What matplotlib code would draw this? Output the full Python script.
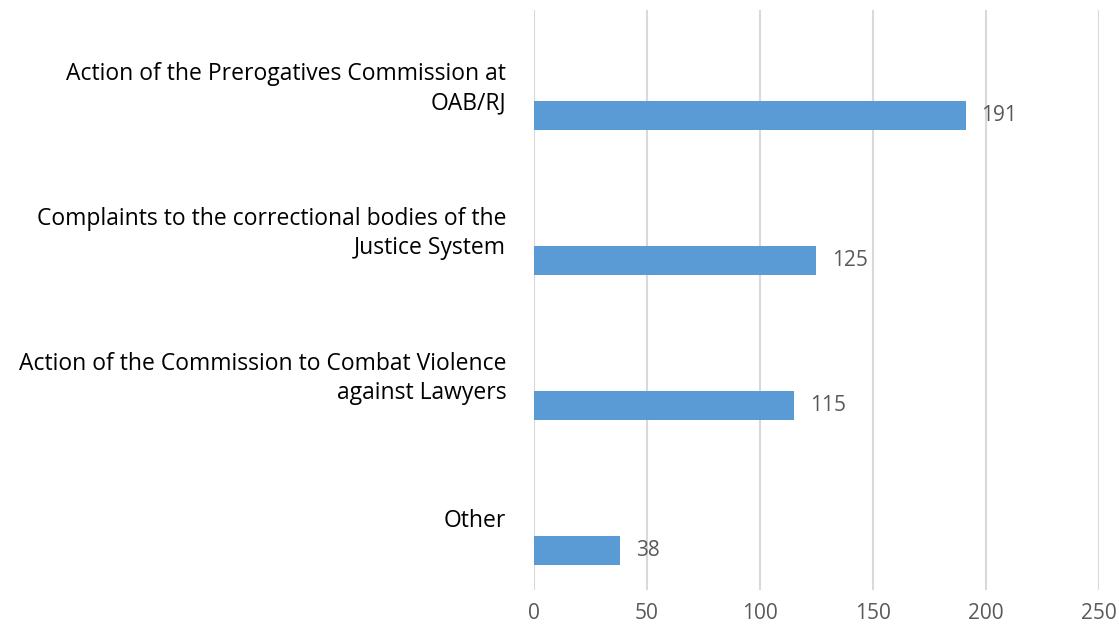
import matplotlib.pyplot as plt

categories = [
    "Action of the Prerogatives Commission at\nOAB/RJ",
    "Complaints to the correctional bodies of the\nJustice System",
    "Action of the Commission to Combat Violence\nagainst Lawyers",
    "Other",
]
values = [191, 125, 115, 38]
x_ticks = [0, 50, 100, 150, 200, 250]

BAR_COLOR = "#5B9BD5"
GRID_COLOR = "#D9D9D9"
TEXT_GRAY = "#595959"


def main():
    plt.rcParams["font.family"] = ["Open Sans", "DejaVu Sans"]
    fig = plt.figure(figsize=(11.19, 6.34), dpi=100)
    ax = fig.add_axes([0.4772, 0.0694, 0.5049, 0.9148])

    positions = list(range(len(categories)))
    # bars sit in the lower part of each band (empty second series in the source)
    bar_pos = [p + 0.228 for p in positions]
    ax.barh(bar_pos, values, height=0.2, color=BAR_COLOR, zorder=3)

    for y, v in zip(bar_pos, values):
        ax.text(v + 7, y, str(v), va="center", ha="left",
                fontsize=15, color=TEXT_GRAY)

    ax.set_xlim(0, 250)
    ax.set_ylim(len(categories) - 0.5, -0.5)
    ax.set_xticks(x_ticks)
    ax.set_xticklabels([str(t) for t in x_ticks], fontsize=15, color=TEXT_GRAY)
    ax.set_yticks(positions)
    ax.set_yticklabels(categories, fontsize=16.5, color="black",
                       linespacing=1.3)
    ax.tick_params(axis="both", length=0)
    ax.tick_params(axis="y", pad=20)
    ax.tick_params(axis="x", pad=9)
    ax.xaxis.grid(True, color=GRID_COLOR, linewidth=1.5, zorder=0)
    for spine in ax.spines.values():
        spine.set_visible(False)

    fig.savefig("out.png", dpi=100)


if __name__ == "__main__":
    main()
